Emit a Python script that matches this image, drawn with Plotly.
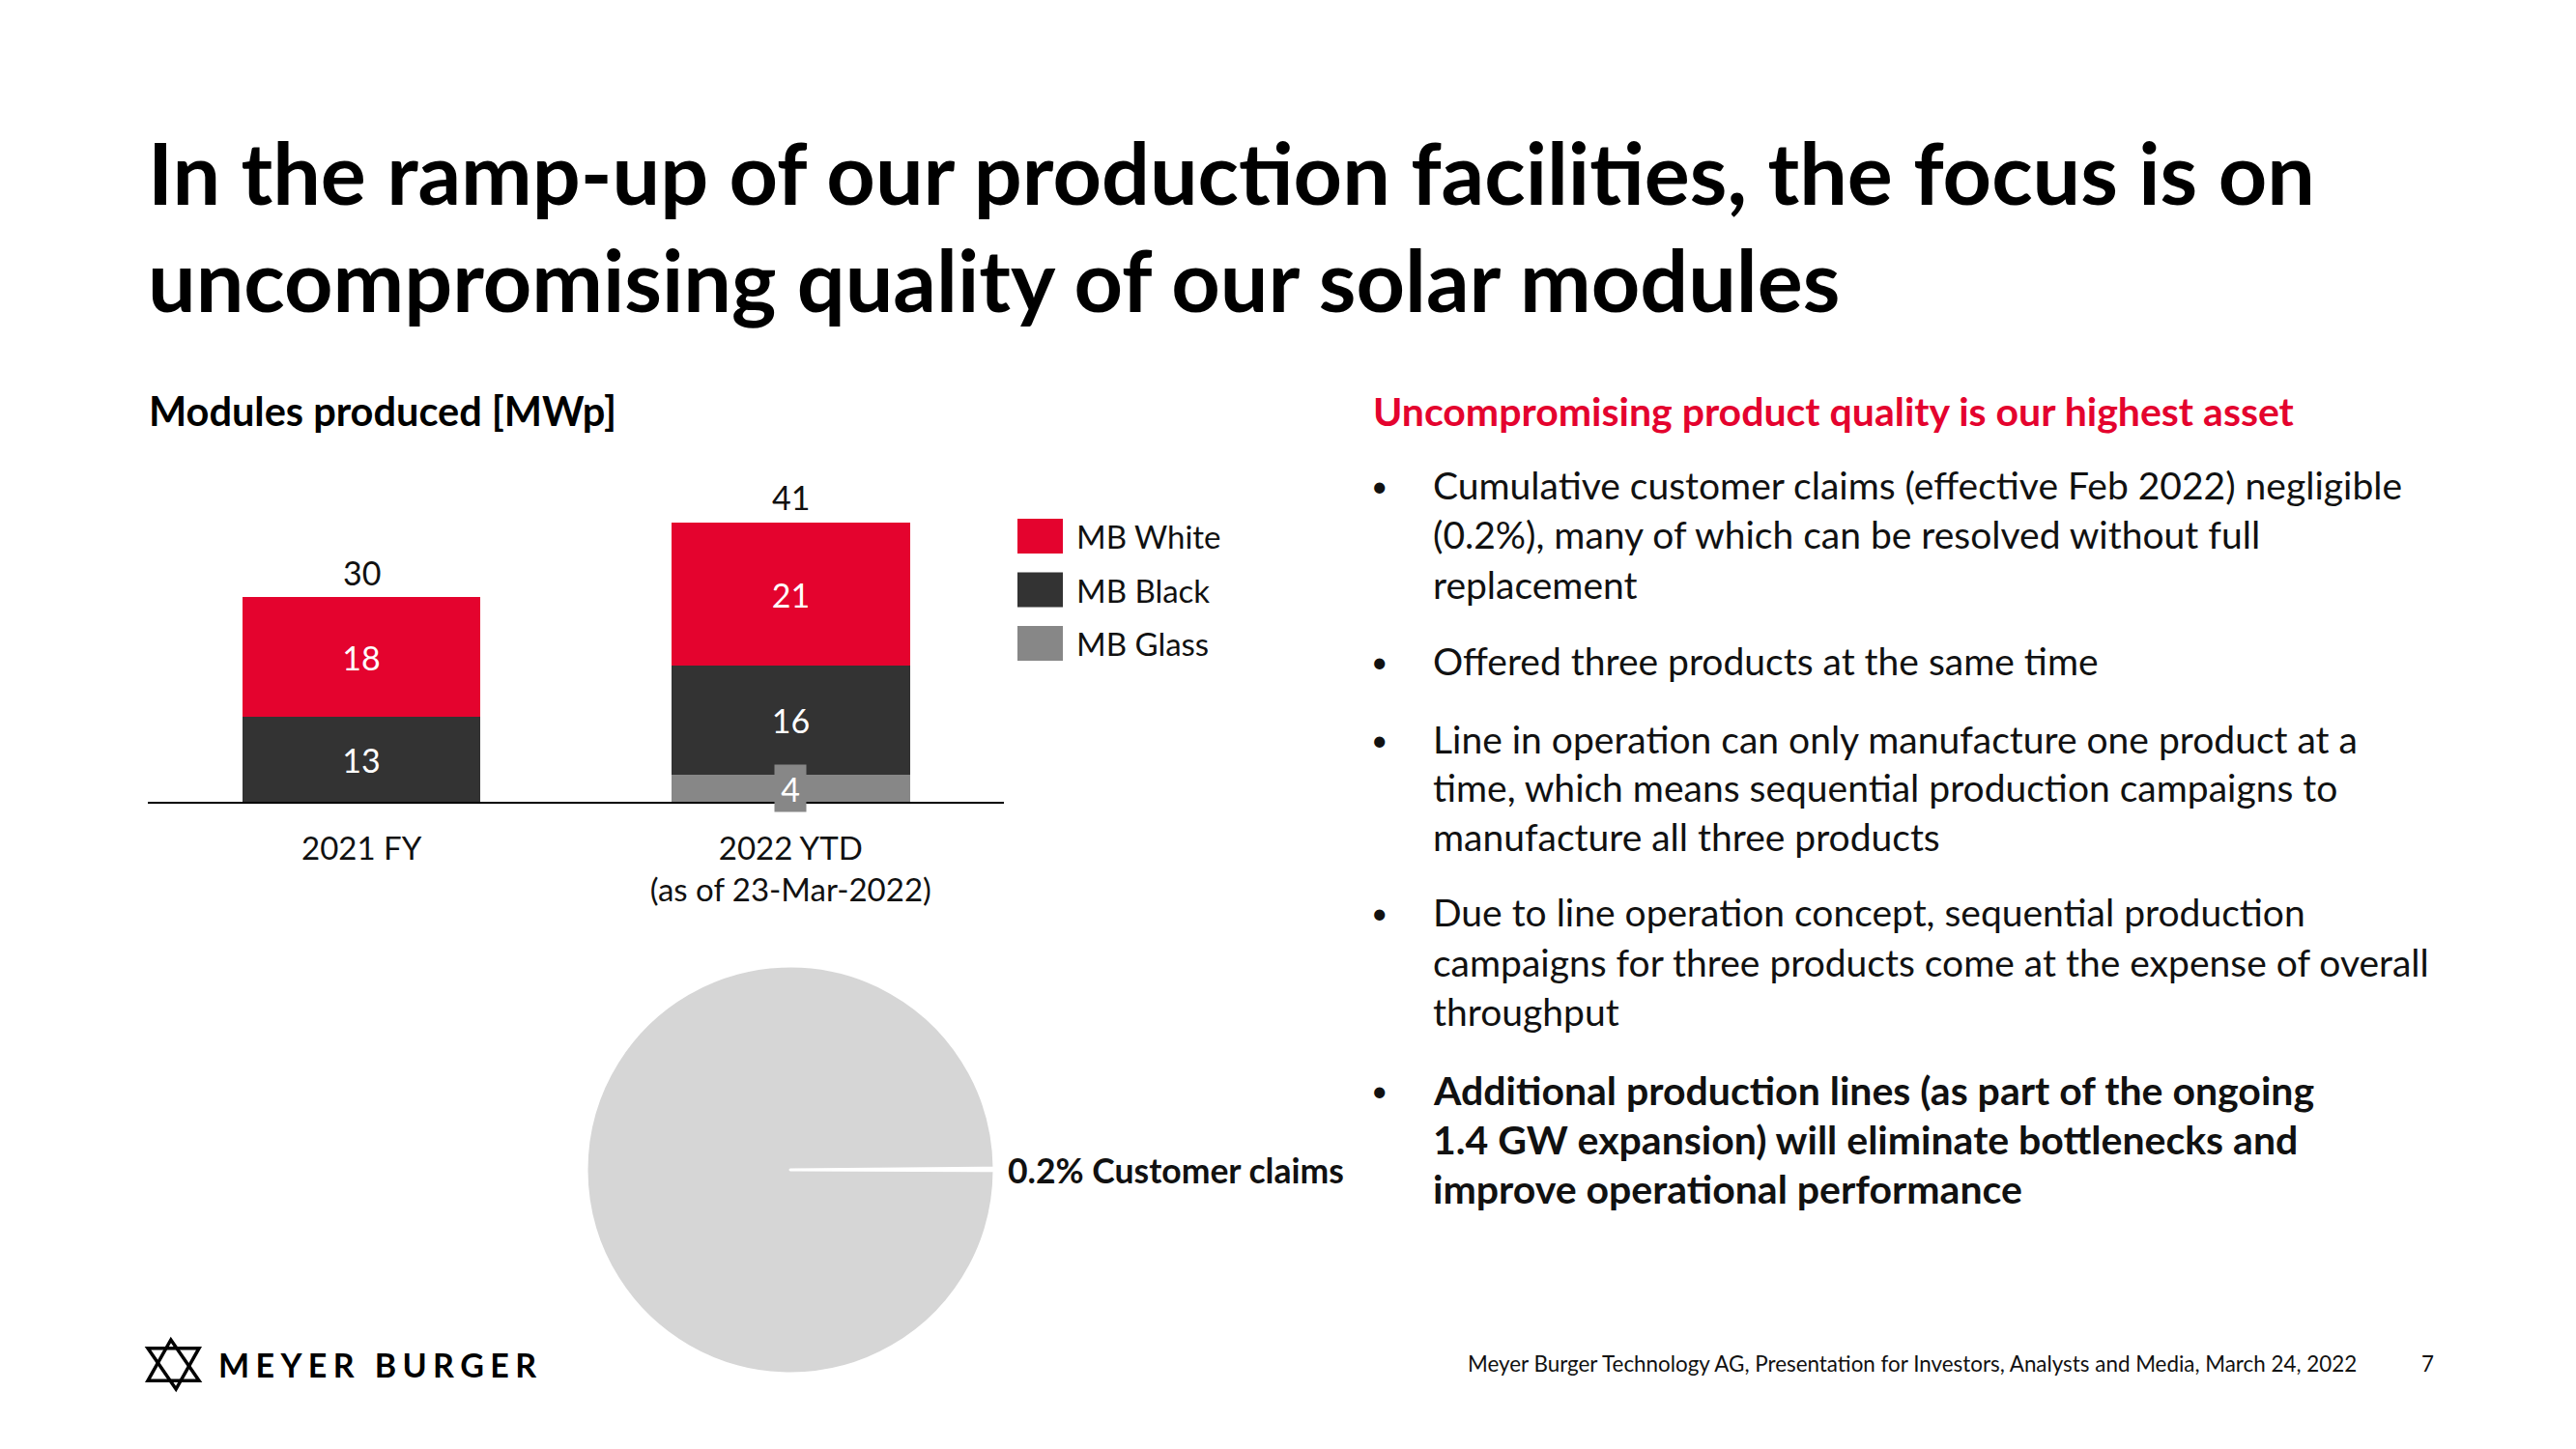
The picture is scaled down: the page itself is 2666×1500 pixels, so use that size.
import plotly.graph_objects as go

W, H = 2666, 1500

# ---------------- data ----------------
categories = ["2021 FY", "2022 YTD<br>(as of 23-Mar-2022)"]
mb_white = [17.5, 21]
mb_black = [12.5, 16]
mb_glass = [None, 4]
totals = [30, 41]
legend_names = ["MB White", "MB Black", "MB Glass"]

pie_labels = ["Customer claims", "Other modules"]
pie_values = [0.2, 99.8]

title_lines = ["In the ramp-up of our production facilities, the focus is on",
               "uncompromising quality of our solar modules"]
chart_title = "Modules produced [MWp]"
right_heading = "Uncompromising product quality is our highest asset"
bullets = [
    (["Cumulative customer claims (effective Feb 2022) negligible",
      "(0.2%), many of which can be resolved without full",
      "replacement"], False),
    (["Offered three products at the same time"], False),
    (["Line in operation can only manufacture one product at a",
      "time, which means sequential production campaigns to",
      "manufacture all three products"], False),
    (["Due to line operation concept, sequential production",
      "campaigns for three products come at the expense of overall",
      "throughput"], False),
    (["Additional production lines (as part of the ongoing",
      "1.4 GW expansion) will eliminate bottlenecks and",
      "improve operational performance"], True),
]
footer_text = "Meyer Burger Technology AG, Presentation for Investors, Analysts and Media, March 24, 2022"
page_no = "7"
logo_text = "MEYER BURGER"

# ---------------- style ----------------
RED = "#E4032E"
BLACK = "#333333"
GRAY = "#878787"
PIE_GRAY = "#D6D6D6"
TXT = "#111111"
FONT = "Lato"
colors = {"MB White": RED, "MB Black": BLACK, "MB Glass": GRAY}


def px(x):
    return x / W


def py(y):
    return 1 - y / H


fig = go.Figure()

series = [("MB Glass", mb_glass), ("MB Black", mb_black), ("MB White", mb_white)]
for name, vals in series:
    show_text = name != "MB Glass"
    fig.add_trace(go.Bar(
        x=categories, y=vals, name=name, width=0.555,
        marker=dict(color=colors[name], line=dict(width=0)),
        texttemplate="%{y:.0f}" if show_text else None,
        textposition="inside" if show_text else "none",
        insidetextanchor="middle",
        constraintext="none",
        textfont=dict(family=FONT, size=34, color="white"),
        showlegend=False, hoverinfo="skip",
    ))

# totals above bars
for c, t in zip(categories, totals):
    fig.add_annotation(x=c, y=t, xref="x", yref="y", text=str(t),
                       showarrow=False, yanchor="middle", yshift=26,
                       font=dict(family=FONT, size=34, color=TXT))

# glass label with grey backdrop
for c, v in zip(categories, mb_glass):
    if v:
        fig.add_annotation(x=c, y=v / 2, xref="x", yref="y", text=f"{v:.0f}",
                           showarrow=False, bgcolor=GRAY, width=30, height=46,
                           font=dict(family=FONT, size=34, color="white"))

fig.add_trace(go.Pie(
    labels=pie_labels, values=pie_values, sort=False,
    direction="counterclockwise", rotation=89.5,
    marker=dict(colors=[PIE_GRAY, PIE_GRAY], line=dict(color="white", width=3)),
    textinfo="none", hoverinfo="skip", showlegend=False,
    domain=dict(x=[px(607), px(1029)], y=[py(1422), py(1000)]),
))

fig.add_annotation(x=px(1041), y=py(1211), xref="paper", yref="paper",
                   xanchor="left", yanchor="middle", showarrow=False,
                   text=f"<b>{pie_values[0]}% {pie_labels[0]}</b>",
                   font=dict(family=FONT, size=35.5, color=TXT))

# manual legend
for i, name in enumerate(legend_names):
    yc = 555 + 55.5 * i
    fig.add_shape(type="rect", xref="paper", yref="paper",
                  x0=px(1053), x1=px(1100), y0=py(yc - 18), y1=py(yc + 18),
                  fillcolor=colors[name], line=dict(width=0))
    fig.add_annotation(x=px(1112), y=py(yc), xref="paper", yref="paper",
                       xanchor="left", yanchor="middle", showarrow=False,
                       text=name, font=dict(family=FONT, size=33, color=TXT))

# titles
for i, line in enumerate(title_lines):
    fig.add_annotation(x=px(151), y=py(178 + 111 * i), xref="paper", yref="paper",
                       xanchor="left", yanchor="middle", showarrow=False,
                       text=f"<b>{line}</b>",
                       font=dict(family=FONT, size=88, color="#000000"))

fig.add_annotation(x=px(152), y=py(425), xref="paper", yref="paper",
                   xanchor="left", yanchor="middle", showarrow=False,
                   text=f"<b>{chart_title}</b>", font=dict(family=FONT, size=41.5, color="#000000"))
fig.add_annotation(x=px(1419), y=py(425), xref="paper", yref="paper",
                   xanchor="left", yanchor="middle", showarrow=False,
                   text=f"<b>{right_heading}</b>", font=dict(family=FONT, size=41, color=RED))

# bullets
line_y = [[502, 553, 605], [684], [765, 815, 866], [944, 996, 1047], [1128, 1179, 1230]]
for (lines, bold), ys in zip(bullets, line_y):
    fig.add_annotation(x=px(1428), y=py(ys[0]), xref="paper", yref="paper",
                       xanchor="center", yanchor="middle", showarrow=False,
                       text="•", font=dict(family=FONT, size=30, color=TXT))
    for line, yy in zip(lines, ys):
        t = f"<b>{line}</b>" if bold else line
        fig.add_annotation(x=px(1481), y=py(yy), xref="paper", yref="paper",
                           xanchor="left", yanchor="middle", showarrow=False,
                           text=t, font=dict(family=FONT, size=41 if bold else 39, color=TXT))

# footer
fig.add_annotation(x=px(1517), y=py(1411), xref="paper", yref="paper",
                   xanchor="left", yanchor="middle", showarrow=False,
                   text=footer_text, font=dict(family=FONT, size=22.4, color=TXT))
fig.add_annotation(x=px(2512), y=py(1411), xref="paper", yref="paper",
                   xanchor="center", yanchor="middle", showarrow=False,
                   text=page_no, font=dict(family=FONT, size=22.4, color=TXT))

# logo text (letter-spaced)
spaced = "\u2009\u200a".join(list(logo_text))
fig.add_annotation(x=px(224), y=py(1412), xref="paper", yref="paper",
                   xanchor="left", yanchor="middle", showarrow=False,
                   text=f"<b>{spaced}</b>", font=dict(family=FONT, size=34, color="#000000"))

# logo icon (hexagram-like)
x0, x1, y0, y1 = 153, 206, 1387, 1438


def pt(u, v):
    return f"{px(x0 + u * (x1 - x0)):.5f},{py(y0 + v * (y1 - y0)):.5f}"


tri1 = f"M {pt(0, 0.17)} L {pt(1, 0.17)} L {pt(0.55, 1)} Z"
tri2 = f"M {pt(0, 0.83)} L {pt(1, 0.83)} L {pt(0.45, 0)} Z"
for p in (tri1, tri2):
    fig.add_shape(type="path", path=p, xref="paper", yref="paper",
                  line=dict(color="#000000", width=3.5))

fig.update_layout(
    width=W, height=H, margin=dict(l=0, r=0, t=0, b=0),
    paper_bgcolor="white", plot_bgcolor="white",
    barmode="stack", bargap=0,
    xaxis=dict(domain=[px(153), px(1039)], range=[-0.498, 1.497],
               showline=True, linecolor="#000000", linewidth=2,
               showgrid=False, zeroline=False, ticks="",
               tickfont=dict(family=FONT, size=33, color=TXT),
               ticklabelstandoff=18, fixedrange=True),
    yaxis=dict(domain=[py(830), py(480)], range=[0, 49.6], visible=False,
               fixedrange=True),
    font=dict(family=FONT),
)

fig.write_html("out.html")
